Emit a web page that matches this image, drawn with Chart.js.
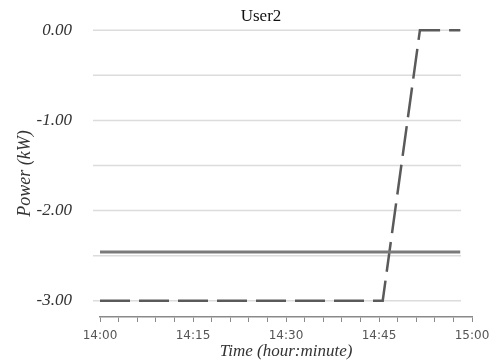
<!DOCTYPE html>
<html><head><meta charset="utf-8">
<script src="https://cdn.jsdelivr.net/npm/chart.js@4/dist/chart.umd.min.js"></script>
<style>html,body{margin:0;padding:0;background:#fff;}#wrap{width:491px;height:363px;}</style>
</head><body><div id="wrap"><canvas id="c"></canvas></div>
<script>
// minutes after 14:00
const titleText = 'User2';
const xTickLabels = ['14:00','14:15','14:30','14:45','15:00'];
const solidTimes = [0, 58.1];
const solidValues = [-2.46, -2.46];
const dashedTimes = [0, 45.6, 51.6, 58.1];
const dashedValues = [-3.0, -3.0, 0.0, 0.0];
const yTickValues = [0, -1, -2, -3];

const toPts = (xs, ys) => xs.map((x, i) => ({x: x, y: ys[i]}));

const gridPlugin = {
  id: 'gridPlugin',
  afterLayout(chart) {
    // center the title over the plot region like the original
    if (chart.titleBlock) chart.titleBlock.left = 31;
  },
  beforeDatasetsDraw(chart) {
    const ctx = chart.ctx, y = chart.scales.y, a = chart.chartArea;
    ctx.save();
    ctx.strokeStyle = '#dcdcdc';
    ctx.lineWidth = 1.5;
    for (let v = 0; v >= -3; v -= 0.5) {
      const py = y.getPixelForValue(v);
      ctx.beginPath();
      ctx.moveTo(a.left - 7, py);
      ctx.lineTo(a.right - 11, py);
      ctx.stroke();
    }
    ctx.restore();
  }
};

new Chart(document.getElementById('c'), {
  type: 'scatter',
  data: {
    datasets: [
      {data: toPts(solidTimes, solidValues), showLine: true, borderColor: '#7a7a7a', borderWidth: 3, pointRadius: 0, clip: false},
      {data: toPts(dashedTimes, dashedValues), showLine: true, borderColor: '#5a5a5a', borderWidth: 2.5, borderDash: [30, 9], pointRadius: 0, clip: false}
    ]
  },
  options: {
    responsive: true, maintainAspectRatio: false, animation: false,
    layout: {padding: {left: 0, right: 0, top: 0, bottom: 0}},
    plugins: {
      legend: {display: false}, tooltip: {enabled: false},
      title: {display: true, text: titleText, color: '#111', font: {family: 'Liberation Serif', size: 17, weight: 'normal'}, padding: {top: 5, bottom: 3}}
    },
    scales: {
      x: {
        type: 'linear', min: 0, max: 60,
        afterFit(s) { s.height = 46; s.paddingRight = 19; s.paddingLeft = 0; },
        afterBuildTicks(s) { const t = []; for (let v = 0; v <= 60; v += 3) t.push({value: v}); s.ticks = t; },
        ticks: {autoSkip: false, maxRotation: 0, padding: 7, color: '#555', font: {family: 'DejaVu Sans', size: 12},
          callback: (v) => (v % 15 === 0 ? xTickLabels[v / 15] : '')},
        grid: {drawOnChartArea: false, drawTicks: true, tickLength: 5, color: '#8a8a8a', lineWidth: 1},
        border: {display: true, color: '#8a8a8a', width: 1.5},
        title: {display: true, text: 'Time (hour:minute)', color: '#333', font: {family: 'Liberation Serif', size: 17, style: 'italic'}, padding: {top: 0, bottom: 1}}
      },
      y: {
        type: 'linear', min: -3.18, max: 0,
        afterFit(s) { s.width = 100; },
        afterBuildTicks(s) { s.ticks = yTickValues.map(v => ({value: v})); },
        ticks: {padding: 20, color: '#333', font: {family: 'Liberation Serif', size: 17, style: 'italic'},
          callback: (v) => v.toFixed(2)},
        grid: {display: false},
        border: {display: false},
        title: {display: true, text: 'Power (kW)', color: '#333', font: {family: 'Liberation Serif', size: 18, style: 'italic'}, padding: {top: 14, bottom: 0}}
      }
    }
  },
  plugins: [gridPlugin]
});
</script></body></html>
